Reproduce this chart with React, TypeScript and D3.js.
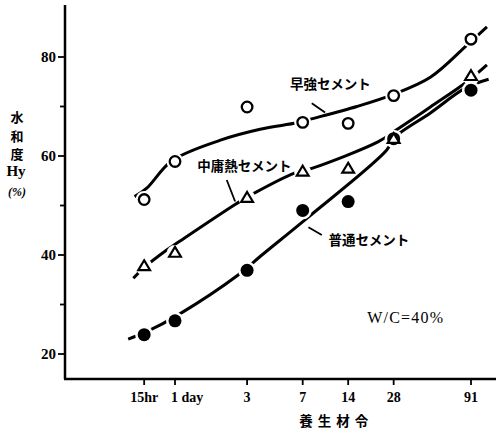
import React from "react";
import * as d3 from "d3";

// curing age (days) and their tick labels
const ages = [0.625, 1, 3, 7, 14, 28, 91];
const ageLabels = ["15hr", "1 day", "3", "7", "14", "28", "91"];
const yTicks = [20, 40, 60, 80];
const yMinor = [30, 50, 70];

// measured degree of hydration Hy (%)
const early = [51.2, 58.9, 69.9, 66.8, 66.6, 72.2, 83.6];
const moderate = [37.8, 40.5, 51.6, 56.9, 57.5, 63.5, 76.2];
const normal = [23.9, 26.7, 36.9, 49.0, 50.8, 63.5, 73.3];

// hand-fitted curves [age, Hy]
const earlyFit: [number, number][] = [
  [0.54, 51.8], [0.65, 53.5], [0.95, 59.0], [2.0, 63.2], [3.66, 65.4], [6.4, 66.7],
  [7.8, 67.4], [16, 70.0], [27.6, 72.4], [49, 75.9], [85.6, 82.4], [116, 86.1],
];
const moderateFit: [number, number][] = [
  [0.53, 35.3], [0.617, 37.3], [0.881, 41.0], [1.03, 42.4], [2.56, 50.4], [3.3, 52.4],
  [6.23, 56.6], [8.04, 57.5], [22.2, 62.9], [29.3, 65.3], [49, 69.9], [85.6, 75.0], [116, 78.4],
];
const normalFit: [number, number][] = [
  [0.49, 23.0], [0.65, 24.5], [1.05, 27.9], [2.63, 36.0], [3.66, 39.7], [7.45, 47.4],
  [25.2, 61.2], [28, 63.6], [49, 68.7], [83.3, 73.7], [119, 75.5],
];

export default function App() {
  const W = 496, H = 434;
  const x = d3.scaleLog().domain([1, 91]).range([175, 471]);
  const y = d3.scaleLinear().domain([20, 80]).range([354, 57]);
  const axisX = 65, axisY = 379, axisTop = 5;

  const line = d3.line<[number, number]>()
    .x(d => x(d[0]))
    .y(d => y(d[1]))
    .curve(d3.curveCatmullRom.alpha(0.5));

  const jp = "'Noto Sans CJK JP', sans-serif";
  const serif = "'Liberation Serif', 'Times New Roman', serif";

  const tri = (cx: number, cy: number) => {
    const s = 5.6;
    return `M${cx},${cy - s}L${cx + s * 1.05},${cy + s * 0.75}L${cx - s * 1.05},${cy + s * 0.75}Z`;
  };

  const leader = (a: [number, number], b: [number, number]) => (
    <line x1={x(a[0])} y1={y(a[1])} x2={x(b[0])} y2={y(b[1])} stroke="#000" strokeWidth={1.8} />
  );

  return (
    <svg width={W} height={H} style={{ position: "absolute", left: 0, top: 0, background: "#fff" }}>
      <rect width={W} height={H} fill="#fff" />
      {/* axes */}
      <line x1={axisX} y1={axisTop} x2={axisX} y2={axisY} stroke="#000" strokeWidth={2.5} />
      <line x1={axisX - 1} y1={axisY} x2={W} y2={axisY} stroke="#000" strokeWidth={2.5} />
      {yTicks.map(t => (
        <g key={t}>
          <line x1={axisX - 7} x2={axisX} y1={y(t)} y2={y(t)} stroke="#000" strokeWidth={1.8} />
          <text x={axisX - 9} y={y(t) + 5} textAnchor="end" fontFamily={serif} fontSize={15} fontWeight="bold">{t}</text>
        </g>
      ))}
      {yMinor.map(t => (
        <line key={t} x1={axisX - 5} x2={axisX} y1={y(t)} y2={y(t)} stroke="#000" strokeWidth={1.8} />
      ))}
      {ages.map((a, i) => (
        <g key={a}>
          <line x1={x(a)} x2={x(a)} y1={axisY} y2={axisY + 6} stroke="#000" strokeWidth={1.8} />
          <text x={x(a)} y={axisY + 23} textAnchor={i === 1 ? "start" : "middle"} dx={i === 1 ? -4 : 0}
            fontFamily={serif} fontSize={14} fontWeight="bold">{ageLabels[i]}</text>
        </g>
      ))}
      <text x={x(14) - 12} y={axisY + 47} textAnchor="middle" fontFamily={jp} fontSize={13.5} fontWeight="bold" letterSpacing={5}>養生材令</text>

      {/* y label */}
      <g fontFamily={jp} fontSize={13} fontWeight="bold" textAnchor="middle">
        <text x={17} y={122}>水</text>
        <text x={17} y={141}>和</text>
        <text x={17} y={159}>度</text>
      </g>
      <text x={16} y={176} textAnchor="middle" fontFamily={serif} fontSize={15} fontWeight="bold">Hy</text>
      <text x={17} y={196} textAnchor="middle" fontFamily={serif} fontSize={12} fontWeight="bold" fontStyle="italic">(%)</text>

      {/* fitted curves */}
      {[earlyFit, moderateFit, normalFit].map((f, i) => (
        <path key={i} d={line(f) || ""} fill="none" stroke="#000" strokeWidth={3} strokeLinecap="butt" />
      ))}

      {/* white halos break the curves around each point */}
      {ages.map((a, i) => (
        <g key={a} fill="#fff">
          <circle cx={x(a)} cy={y(early[i])} r={8.5} />
          <circle cx={x(a)} cy={y(moderate[i]) + 1} r={8.5} />
          <circle cx={x(a)} cy={y(normal[i])} r={9} />
        </g>
      ))}

      {/* markers */}
      {ages.map((a, i) => (
        <g key={a}>
          <circle cx={x(a)} cy={y(normal[i])} r={6.5} fill="#000" />
          <path d={tri(x(a), y(moderate[i]))} fill="#fff" stroke="#000" strokeWidth={2.2} strokeLinejoin="miter" />
          <circle cx={x(a)} cy={y(early[i])} r={5.3} fill="#fff" stroke="#000" strokeWidth={2.3} />
        </g>
      ))}

      {/* labels */}
      <g fontFamily={jp} fontSize={13.5} fontWeight="bold">
        <text x={x(5.78)} y={y(74.5) + 5}>早強セメント</text>
        <text x={x(1.405)} y={y(58.0) + 5}>中庸熱セメント</text>
        <text x={x(10.36)} y={y(43.0) + 5}>普通セメント</text>
      </g>
      {leader([8.04, 70.65], [9.85, 68.8])}
      {leader([2.2, 55.15], [2.5, 50.8])}
      {leader([7.64, 45.6], [9.37, 44.04])}
      <text x={x(18.7)} y={y(27.5) + 6} fontFamily={serif} fontSize={16} textLength={76}>W/C=40%</text>
    </svg>
  );
}
